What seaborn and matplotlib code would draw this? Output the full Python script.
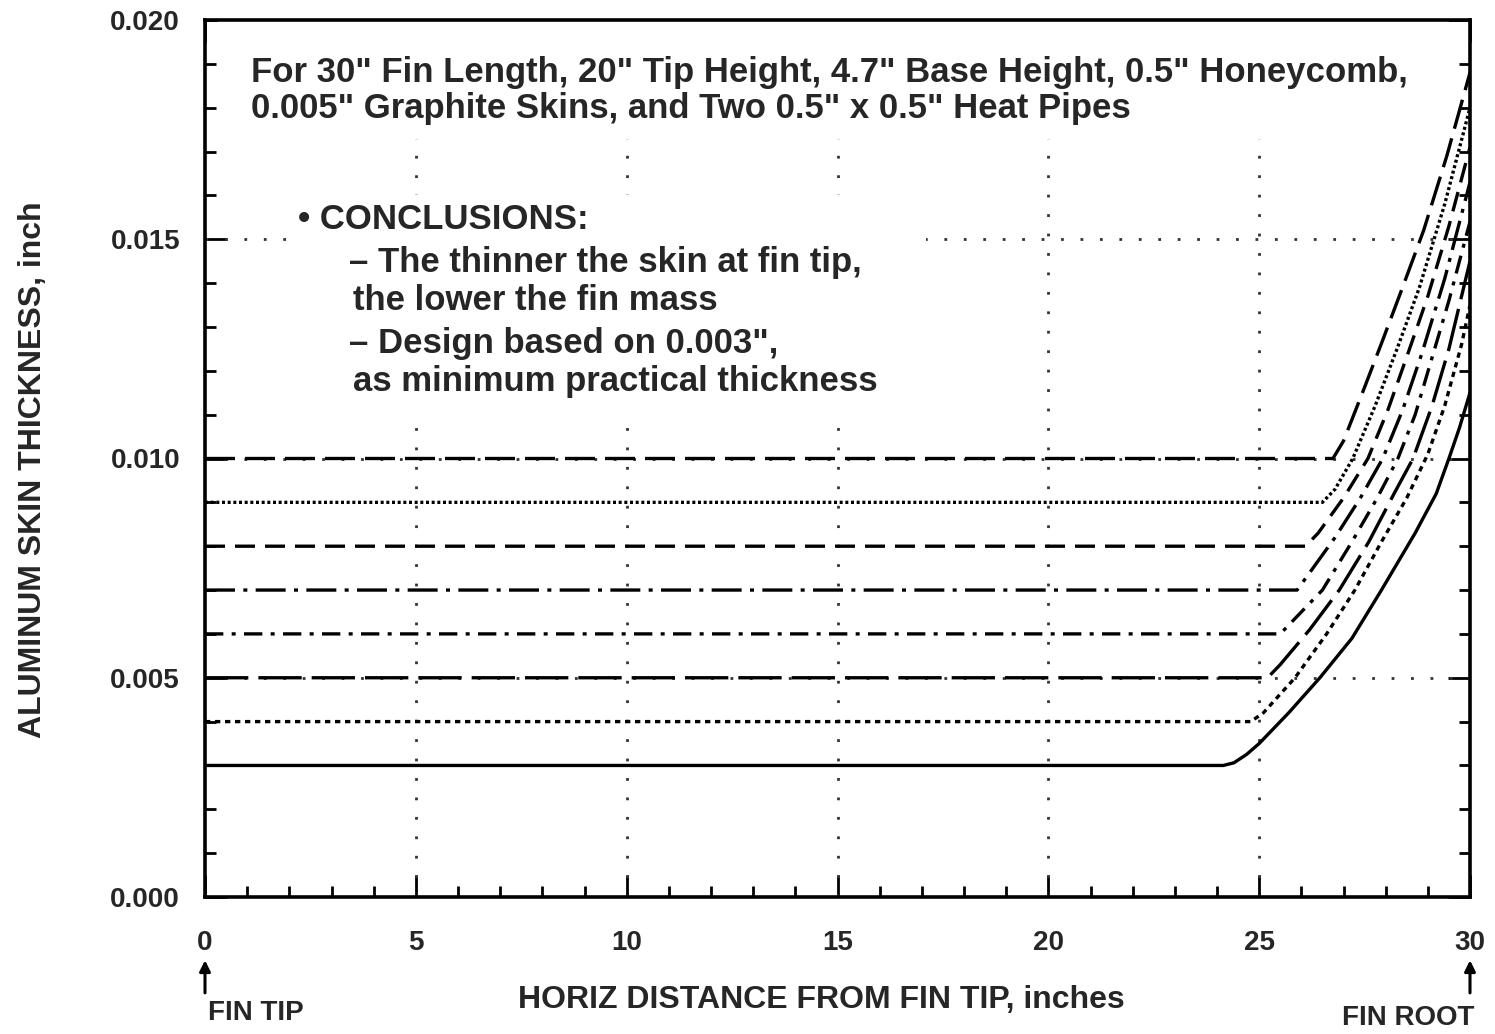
import numpy as np
import pandas as pd
import matplotlib
matplotlib.use("Agg")
import matplotlib.pyplot as plt
import seaborn as sns
from matplotlib.patches import Rectangle

# Aluminum skin thickness vs distance from fin tip
tip_thickness = [0.010, 0.009, 0.008, 0.007, 0.006, 0.005, 0.004, 0.003]

x_010 = [0, 26.75, 27.0, 27.45, 27.93, 28.4, 28.9, 29.45, 30.0]
y_010 = [0.010, 0.010, 0.0104, 0.0115, 0.0127, 0.0139, 0.0152, 0.0169, 0.0188]

x_009 = [0, 26.5, 26.8, 27.22, 27.75, 28.27, 28.8, 29.4, 30.0]
y_009 = [0.009, 0.009, 0.0093, 0.0100, 0.0112, 0.0125, 0.0139, 0.0158, 0.0180]

x_008 = [0, 26.1, 26.4, 27.0, 27.58, 28.05, 28.53, 29.0, 29.5, 30.0]
y_008 = [0.008, 0.008, 0.0083, 0.0091, 0.0100, 0.0111, 0.0124, 0.0137, 0.0153, 0.0171]

x_007 = [0, 25.9, 26.2, 26.8, 27.4, 27.93, 28.4, 28.86, 29.4, 30.0]
y_007 = [0.007, 0.007, 0.0074, 0.0082, 0.0091, 0.0100, 0.0111, 0.0124, 0.0141, 0.0163]

x_006 = [0, 25.5, 25.8, 26.5, 27.2, 27.8, 28.29, 28.7, 29.1, 29.5, 30.0]
y_006 = [0.006, 0.006, 0.0063, 0.0070, 0.0081, 0.0091, 0.0100, 0.0110, 0.0123, 0.0136, 0.0154]

x_005 = [0, 25.2, 25.5, 26.2, 26.9, 27.6, 28.2, 28.65, 29.1, 29.5, 30.0]
y_005 = [0.005, 0.005, 0.0053, 0.0061, 0.0070, 0.0081, 0.0092, 0.0100, 0.0112, 0.0125, 0.0145]

x_004 = [0, 24.8, 25.1, 25.85, 26.6, 27.27, 27.9, 28.5, 29.0, 29.4, 29.8, 30.0]
y_004 = [0.004, 0.004, 0.0042, 0.0050, 0.0060, 0.0070, 0.0081, 0.0091, 0.0101, 0.0112, 0.0126, 0.0135]

x_003 = [0, 24.15, 24.4, 24.7, 25.0, 25.7, 26.44, 27.2, 27.9, 28.7, 29.2, 29.5, 29.75, 30.0]
y_003 = [0.003, 0.003, 0.00306, 0.00325, 0.0035, 0.0042, 0.0050, 0.0059, 0.0070, 0.0083, 0.0092, 0.0100, 0.0107, 0.0115]

curves_x = [x_010, x_009, x_008, x_007, x_006, x_005, x_004, x_003]
curves_y = [y_010, y_009, y_008, y_007, y_006, y_005, y_004, y_003]

x_ticks = [0, 5, 10, 15, 20, 25, 30]
y_ticks = [0.000, 0.005, 0.010, 0.015, 0.020]

# one line style per curve, top to bottom
styles = [
    (0, (9, 3)),
    (0, (0.9, 0.8)),
    (0, (6, 3)),
    (0, (9, 2.5, 1.2, 2.5)),
    (0, (5.5, 2.5, 1.2, 2.5)),
    (0, (13, 3)),
    (0, (1.6, 1.4)),
    "-",
]

sns.set_style("ticks")
plt.rcParams["font.family"] = ["Liberation Sans", "DejaVu Sans"]
plt.rcParams["font.weight"] = "bold"

fig = plt.figure(figsize=(14.95, 10.34), dpi=100)
ax = fig.add_axes([205 / 1495, 137 / 1034, 1265 / 1495, 877 / 1034])

# dotted grid
for gx in x_ticks[1:-1]:
    ax.axvline(gx, color="#333333", lw=2, ls=(0, (1, 6)), zorder=1)
for gy in y_ticks[1:-1]:
    ax.axhline(gy, color="#333333", lw=2, ls=(0, (1, 6)), zorder=1)

# white areas behind the text blocks (they hide the grid)
ax.add_patch(Rectangle((0.3, 0.01728), 29.2, 0.0027, facecolor="white",
                       edgecolor="none", zorder=2))
ax.add_patch(Rectangle((2.0, 0.0110), 15.1, 0.0050, facecolor="white",
                       edgecolor="none", zorder=2))

for xs, ys, st in zip(curves_x, curves_y, styles):
    sns.lineplot(x=xs, y=ys, ax=ax, color="black", lw=2.4, linestyle=st,
                 zorder=4, sort=False, estimator=None)

ax.set_xlim(0, 30)
ax.set_ylim(0, 0.020)
ax.set_xticks(x_ticks)
ax.set_xticklabels([str(t) for t in x_ticks])
ax.set_yticks(y_ticks)
ax.set_yticklabels([f"{t:.3f}" for t in y_ticks])
ax.set_xticks(np.arange(0, 31, 1), minor=True)
ax.set_yticks(np.arange(0, 0.0201, 0.001), minor=True)
ax.tick_params(which="both", direction="in", top=True, right=True,
               width=2, color="black", labelsize=20)
ax.tick_params(which="major", length=16)
ax.tick_params(which="minor", length=8)
ax.tick_params(axis="x", pad=24)
ax.tick_params(axis="y", pad=18)
for lab in ax.get_xticklabels() + ax.get_yticklabels():
    lab.set_fontweight("bold")
for sp in ax.spines.values():
    sp.set_linewidth(2.6)
    sp.set_color("black")

ax.text(1.1, 0.01881,
        'For 30" Fin Length, 20" Tip Height, 4.7" Base Height, 0.5" Honeycomb,',
        fontsize=25, fontweight="bold", va="center", ha="left", zorder=5)
ax.text(1.1, 0.01799,
        '0.005" Graphite Skins, and Two 0.5" x 0.5" Heat Pipes',
        fontsize=25, fontweight="bold", va="center", ha="left", zorder=5)

conc_lines = [
    (2.2, 0.01544, "\u2022 CONCLUSIONS:"),
    (3.42, 0.01446, "\u2013 The thinner the skin at fin tip,"),
    (3.5, 0.01361, "the lower the fin mass"),
    (3.42, 0.01263, "\u2013 Design based on 0.003\","),
    (3.5, 0.01176, "as minimum practical thickness"),
]
for cx, cy, txt in conc_lines:
    ax.text(cx, cy, txt, fontsize=25, fontweight="bold", va="center",
            ha="left", zorder=5)

fig.text(33 / 1495, 1 - 470 / 1034, "ALUMINUM SKIN THICKNESS, inch",
         rotation=90, ha="center", va="center", fontsize=23, fontweight="bold")
fig.text(821 / 1495, 1 - 1000 / 1034, "HORIZ DISTANCE FROM FIN TIP, inches",
         ha="center", va="center", fontsize=23, fontweight="bold")

# FIN TIP / FIN ROOT markers
for ax_x in [0, 30]:
    ax.annotate("", xy=(ax_x, -0.00138), xytext=(ax_x, -0.00225),
                xycoords="data", annotation_clip=False,
                arrowprops=dict(arrowstyle="-|>", color="black", lw=2.2,
                                mutation_scale=16))
fig.text(208 / 1495, 1 - 1013 / 1034, "FIN TIP", ha="left", va="center",
         fontsize=20, fontweight="bold")
fig.text(1474 / 1495, 1 - 1018 / 1034, "FIN ROOT", ha="right", va="center",
         fontsize=20, fontweight="bold")

fig.savefig("out.png", dpi=100)
